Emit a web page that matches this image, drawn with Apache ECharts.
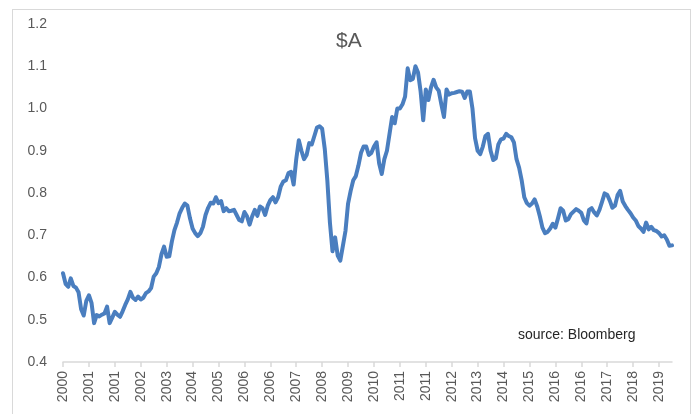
<!DOCTYPE html>
<html>
<head>
<meta charset="utf-8">
<script src="https://cdn.jsdelivr.net/npm/echarts@6/dist/echarts.min.js"></script>
<style>
html,body{margin:0;padding:0;background:#fff;}
#frame{position:absolute;left:12px;top:9px;width:679px;height:420px;border:1.5px solid #d9d9d9;box-sizing:border-box;}
#chart{position:absolute;left:0;top:0;width:696px;height:414px;}
</style>
</head>
<body>
<div id="frame"></div>
<div id="chart"></div>
<script>
const title = '$A';
const sourceNote = 'source: Bloomberg';
const startYear = 2000, startMonth = 3;
const yTicks = [0.4, 0.5, 0.6, 0.7, 0.8, 0.9, 1.0, 1.1, 1.2];
const audusd = [
0.61,0.585,0.578,0.598,0.58,0.576,0.565,0.525,0.51,0.545,
0.558,0.54,0.492,0.511,0.508,0.512,0.515,0.531,0.492,0.505,
0.519,0.512,0.507,0.52,0.535,0.548,0.566,0.552,0.547,0.555,
0.548,0.552,0.563,0.567,0.575,0.602,0.61,0.625,0.655,0.673,
0.649,0.65,0.685,0.712,0.73,0.752,0.765,0.775,0.77,0.74,
0.716,0.705,0.698,0.705,0.72,0.748,0.765,0.777,0.775,0.79,
0.776,0.781,0.757,0.764,0.757,0.758,0.76,0.748,0.736,0.733,
0.755,0.745,0.725,0.745,0.76,0.746,0.768,0.764,0.748,0.77,
0.783,0.79,0.778,0.79,0.815,0.827,0.83,0.847,0.85,0.82,
0.88,0.925,0.9,0.88,0.89,0.918,0.915,0.935,0.955,0.958,
0.952,0.905,0.83,0.73,0.662,0.695,0.652,0.64,0.675,0.71,
0.775,0.805,0.83,0.84,0.865,0.895,0.91,0.91,0.89,0.895,
0.91,0.92,0.87,0.845,0.88,0.9,0.94,0.98,0.965,1.0,
1.0,1.01,1.028,1.095,1.067,1.07,1.1,1.085,1.04,0.972,
1.045,1.02,1.05,1.068,1.05,1.042,1.01,0.98,1.045,1.033,
1.036,1.037,1.039,1.041,1.04,1.025,1.04,1.04,1.0,0.93,
0.9,0.892,0.91,0.935,0.94,0.9,0.878,0.882,0.915,0.927,
0.929,0.94,0.935,0.932,0.92,0.88,0.86,0.83,0.79,0.776,
0.77,0.775,0.785,0.768,0.745,0.718,0.705,0.708,0.716,0.727,
0.718,0.74,0.764,0.758,0.735,0.738,0.75,0.756,0.762,0.758,
0.753,0.735,0.728,0.76,0.764,0.754,0.747,0.76,0.779,0.799,
0.796,0.782,0.765,0.77,0.795,0.805,0.78,0.769,0.76,0.752,
0.742,0.735,0.722,0.716,0.708,0.73,0.714,0.72,0.712,0.71,
0.705,0.697,0.70,0.69,0.675,0.676
];
const months = audusd.map((v, i) => {
  const m = startMonth - 1 + i;
  const y = startYear + Math.floor(m / 12);
  const mm = (m % 12) + 1;
  return y + '-' + (mm < 10 ? '0' + mm : mm);
});

const chart = echarts.init(document.getElementById('chart'), null, {renderer: 'canvas'});
chart.setOption({
  animation: false,
  backgroundColor: 'transparent',
  grid: {left: 63, right: 24, top: 24, bottom: 52, containLabel: false},
  graphic: [
    {type: 'text', left: 336, top: 31, style: {text: title, font: '21px "Liberation Sans", Arial, sans-serif', fill: '#595959'}},
    {type: 'text', left: 518, top: 328, style: {text: sourceNote, font: '14px "Liberation Sans", Arial, sans-serif', fill: '#262626'}}
  ],
  xAxis: {
    type: 'category',
    data: months,
    boundaryGap: false,
    axisLine: {lineStyle: {color: '#d9d9d9', width: 1.5}},
    axisTick: {show: true, interval: 9, length: 5, lineStyle: {color: '#d9d9d9', width: 1.5}},
    axisLabel: {
      interval: 9, rotate: 90, margin: 9,
      color: '#595959', fontSize: 14, fontFamily: '"Liberation Sans", Arial, sans-serif',
      formatter: v => v.slice(0, 4)
    },
    splitLine: {show: false}
  },
  yAxis: {
    type: 'value',
    min: yTicks[0], max: yTicks[yTicks.length - 1], interval: 0.1,
    axisLine: {show: false}, axisTick: {show: false}, splitLine: {show: false},
    axisLabel: {
      margin: 16, color: '#595959', fontSize: 14, fontFamily: '"Liberation Sans", Arial, sans-serif',
      formatter: v => v.toFixed(1)
    }
  },
  series: [{
    type: 'line',
    data: audusd,
    showSymbol: false,
    smooth: false,
    lineStyle: {color: '#4a7ebf', width: 4, join: 'round', cap: 'round'},
    itemStyle: {color: '#4a7ebf'}
  }]
});
</script>
</body>
</html>
